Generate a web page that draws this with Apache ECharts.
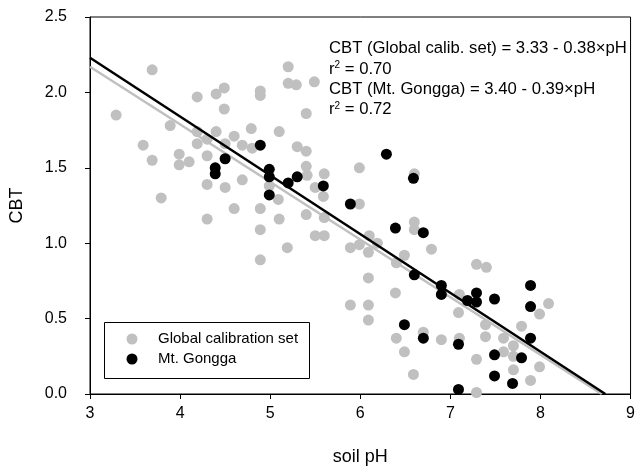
<!DOCTYPE html>
<html><head><meta charset="utf-8">
<script src="https://cdn.jsdelivr.net/npm/echarts@6/dist/echarts.min.js"></script>
<style>html,body{margin:0;padding:0;background:#fff}#c{width:638px;height:471px}</style>
</head><body><div id="c"></div>
<script>
// Global calibration set: soil pH, CBT
const globalPH = [3.29,3.69,3.59,3.69,3.89,3.99,3.99,4.10,3.79,4.19,4.19,4.19,4.40,4.49,4.49,4.89,4.89,5.20,5.20,5.29,5.49,5.40,5.10,4.79,4.40,4.60,4.69,4.80,4.30,4.30,4.50,5.30,5.40,5.40,5.41,5.60,5.50,5.59,4.69,4.30,4.50,4.99,5.09,4.60,4.89,4.30,5.10,4.89,5.50,5.60,5.40,5.60,5.19,4.89,5.99,5.99,6.60,6.60,6.60,6.10,5.89,5.99,6.09,6.19,6.09,5.89,6.09,6.09,6.79,6.49,6.40,6.39,6.70,6.90,6.40,6.49,6.59,7.10,7.09,7.10,7.29,7.40,7.39,7.39,7.59,7.79,7.59,7.70,7.70,7.29,7.70,7.99,8.09,7.99,7.89,7.29];
const globalCBT = [1.85,2.15,1.65,1.55,1.78,1.59,1.52,1.54,1.30,1.97,1.74,1.66,1.99,2.03,1.89,2.01,1.98,2.17,2.06,2.05,2.07,1.86,1.74,1.76,1.74,1.71,1.65,1.63,1.69,1.58,1.66,1.64,1.61,1.51,1.45,1.46,1.37,1.31,1.42,1.39,1.37,1.38,1.29,1.23,1.23,1.16,1.16,1.09,1.05,1.05,1.19,1.17,0.97,0.89,1.50,1.26,1.46,1.14,1.09,1.05,0.97,0.99,0.94,1.00,0.77,0.59,0.59,0.49,0.96,0.92,0.87,0.67,0.41,0.36,0.37,0.28,0.13,0.37,0.54,0.66,0.86,0.84,0.46,0.38,0.37,0.45,0.28,0.32,0.25,0.23,0.16,0.53,0.60,0.18,0.09,0.01];
// Mt. Gongga: soil pH, CBT
const gonggaPH = [4.89,4.50,4.39,4.39,4.99,4.99,5.30,5.20,5.59,4.99,6.29,6.59,5.89,6.39,6.70,6.60,6.90,6.90,7.19,7.29,7.29,7.49,7.89,7.89,7.89,6.49,6.70,7.09,7.49,7.79,7.49,7.69,7.09];
const gonggaCBT = [1.65,1.56,1.50,1.46,1.49,1.44,1.44,1.40,1.38,1.32,1.59,1.43,1.26,1.10,1.07,0.79,0.72,0.66,0.62,0.67,0.61,0.63,0.72,0.58,0.37,0.46,0.37,0.33,0.26,0.24,0.12,0.07,0.03];
// Regression lines (endpoints as drawn)
const globalFitPH = [3, 8.68];
const globalFitCBT = [2.17, 0];
const gonggaFitPH = [3, 8.72];
const gonggaFitCBT = [2.23, 0];
const xTicks = [3,4,5,6,7,8,9];
const yTicks = [0.0,0.5,1.0,1.5,2.0,2.5];
const legendNames = ['Global calibration set','Mt. Gongga'];
const eqLines = ['CBT (Global calib. set) = 3.33 - 0.38×pH','r{s|2} = 0.70','CBT (Mt. Gongga) = 3.40 - 0.39×pH','r{s|2} = 0.72'];

const zip = (a,b)=>a.map((v,i)=>[v,b[i]]);
const FONT = 'Liberation Sans, Arial, sans-serif';
const GRAY = '#c0c0c0';
const chart = echarts.init(document.getElementById('c'), null, {renderer:'canvas'});
chart.setOption({
  animation:false,
  backgroundColor:'#fff',
  textStyle:{fontFamily:FONT},
  grid:{left:86,right:6,top:17,bottom:71,show:true,borderColor:'#000',borderWidth:1,backgroundColor:'transparent'},
  xAxis:{type:'value',min:xTicks[0],max:xTicks[xTicks.length-1],interval:1,
    name:'soil pH',nameLocation:'middle',nameGap:54,nameTextStyle:{fontSize:18,color:'#000',fontFamily:FONT},
    axisLine:{lineStyle:{color:'#000',width:1}},axisTick:{inside:false,length:5,lineStyle:{color:'#000'}},
    axisLabel:{fontSize:16,color:'#000',margin:12,fontFamily:FONT},splitLine:{show:false}},
  yAxis:{type:'value',min:yTicks[0],max:yTicks[yTicks.length-1],interval:0.5,
    name:'CBT',nameLocation:'middle',nameGap:64,nameRotate:90,nameTextStyle:{fontSize:18,color:'#000',fontFamily:FONT},
    axisLine:{show:true,lineStyle:{color:'#000',width:1}},axisTick:{show:true,inside:false,length:5,lineStyle:{color:'#000'}},
    axisLabel:{fontSize:16,color:'#000',margin:23,fontFamily:FONT,formatter:v=>v.toFixed(1)},splitLine:{show:false}},
  series:[
    {name:legendNames[0],type:'scatter',data:zip(globalPH,globalCBT),symbol:'circle',symbolSize:11,itemStyle:{color:GRAY,opacity:1},z:1},
    {type:'line',data:zip(globalFitPH,globalFitCBT),showSymbol:false,symbol:'none',lineStyle:{color:GRAY,width:2.5},z:2,silent:true},
    {type:'line',data:zip(gonggaFitPH,gonggaFitCBT),showSymbol:false,symbol:'none',lineStyle:{color:'#000',width:2.5},z:3,silent:true},
    {name:legendNames[1],type:'scatter',data:zip(gonggaPH,gonggaCBT),symbol:'circle',symbolSize:11,itemStyle:{color:'#000',opacity:1},z:4}
  ],
  graphic:[
    {type:'rect',left:104,top:322,shape:{width:205,height:56},style:{fill:'#fff',stroke:'#000',lineWidth:1},z:10},
    {type:'circle',shape:{cx:132,cy:339,r:5.5},style:{fill:GRAY},z:11},
    {type:'circle',shape:{cx:132,cy:359,r:5.5},style:{fill:'#000'},z:11},
    {type:'text',left:158,top:331,style:{text:legendNames[0],fontSize:15,fontFamily:FONT,fill:'#000'},z:11},
    {type:'text',left:158,top:351,style:{text:legendNames[1],fontSize:15,fontFamily:FONT,fill:'#000'},z:11},
    ...eqLines.map((t,i)=>({type:'text',left:329,top:40+i*20.4,z:11,
      style:{text:t,fontSize:16.7,fontFamily:FONT,fill:'#000',
        rich:{s:{fontSize:10,fontFamily:FONT,fill:'#000',verticalAlign:'top',lineHeight:17}}}}))
  ]
});
</script></body></html>
